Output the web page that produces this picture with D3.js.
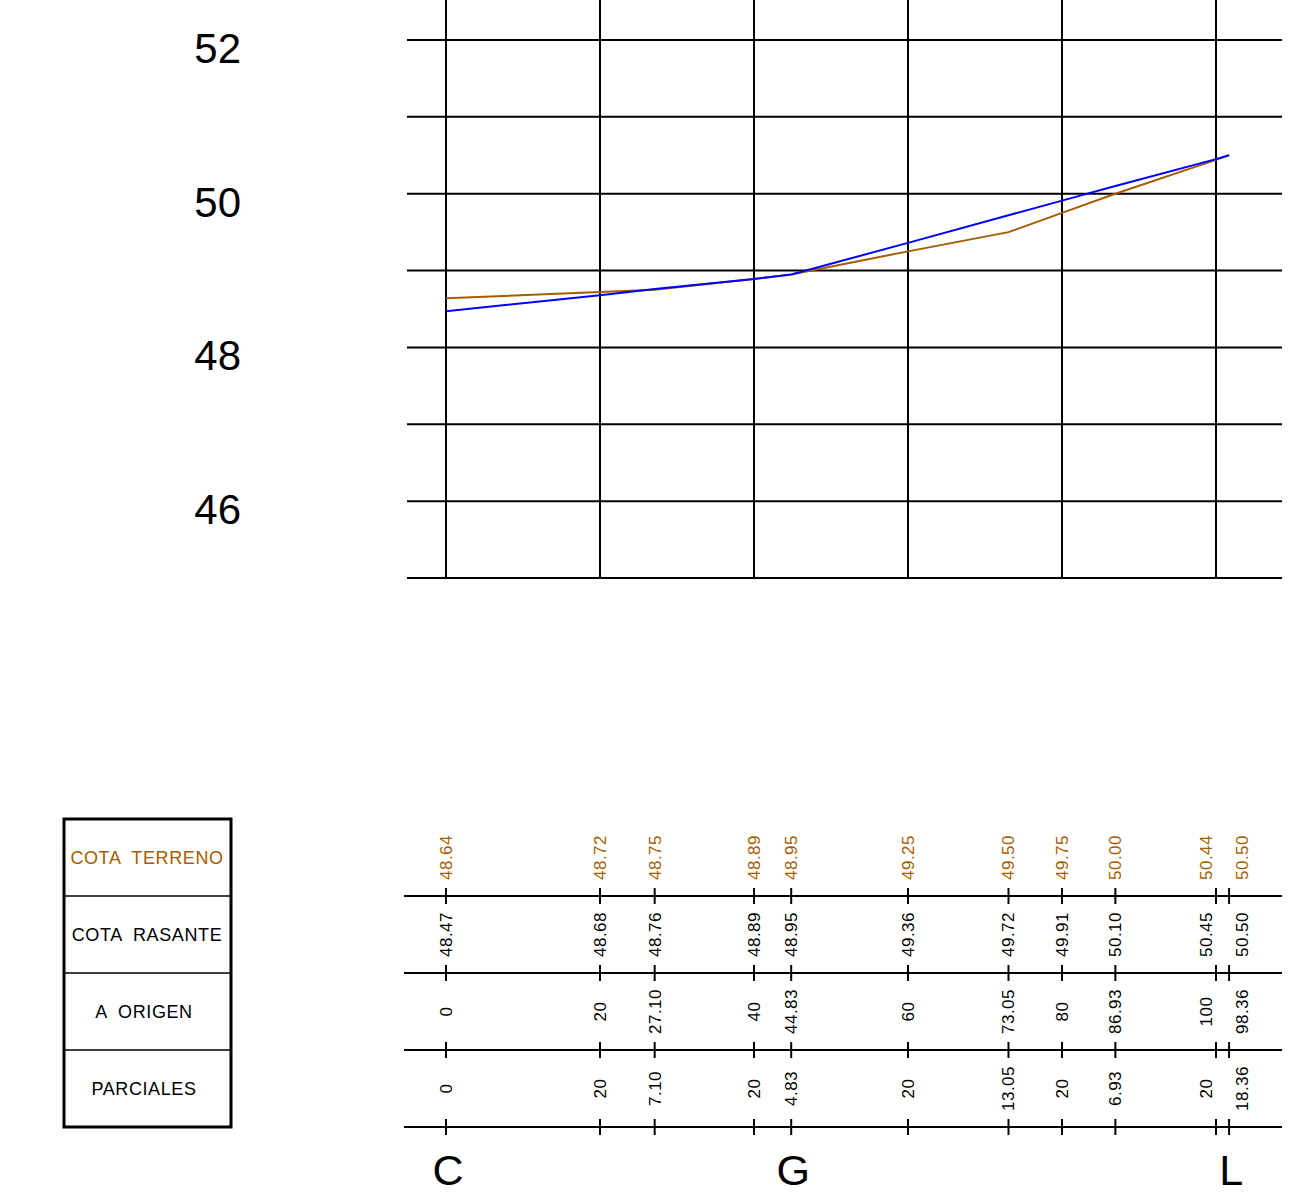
<!DOCTYPE html>
<html>
  <head>
    <meta charset="utf-8">
    <style>
      body { margin: 0; background: #fff; }
      svg { display: block; }
      text { font-family: "Liberation Sans", Arial, sans-serif; white-space: pre; }
    </style>
    <script src="https://d3js.org/d3.v7.min.js"></script>
  </head>
  <body>
    <script type="text/javascript">
      const width = 1292;
      const height = 1196;

      // distances along the alignment (m) where each row value sits
      const stations = [0, 20, 27.10, 40, 44.83, 60, 73.05, 80, 86.93, 100, 101.7];
      const cotaTerreno = [48.64, 48.72, 48.75, 48.89, 48.95, 49.25, 49.50, 49.75, 50.00, 50.44, 50.50];
      const cotaRasante = [48.47, 48.68, 48.76, 48.89, 48.95, 49.36, 49.72, 49.91, 50.10, 50.45, 50.50];
      const aOrigen = ['0', '20', '27.10', '40', '44.83', '60', '73.05', '80', '86.93', '100', '98.36'];
      const parciales = ['0', '20', '7.10', '20', '4.83', '20', '13.05', '20', '6.93', '20', '18.36'];
      const puntos = [{ name: 'C', idx: 0 }, { name: 'G', idx: 4 }, { name: 'L', idx: 10 }];
      const rowNames = ['COTA  TERRENO', 'COTA  RASANTE', 'A  ORIGEN', 'PARCIALES'];

      const yTicks = [45, 46, 47, 48, 49, 50, 51, 52];
      const yLabels = [46, 48, 50, 52];
      const xGrid = [0, 20, 40, 60, 80, 100];

      const brown = '#a65c00';
      const blue = '#0000ff';

      const svg = d3.select('body')
        .append('svg')
        .attr('width', width)
        .attr('height', height);

      const x = d3.scaleLinear().domain([0, 100]).range([446, 1216]);
      const y = d3.scaleLinear().domain([45, 52]).range([578, 40]);

      // grid
      svg.append('g')
        .selectAll('line')
        .data(yTicks)
        .enter()
        .append('line')
        .attr('x1', 407)
        .attr('x2', 1282)
        .attr('y1', (d) => y(d))
        .attr('y2', (d) => y(d))
        .attr('stroke', '#000')
        .attr('stroke-width', 2);

      svg.append('g')
        .selectAll('line')
        .data(xGrid)
        .enter()
        .append('line')
        .attr('x1', (d) => x(d))
        .attr('x2', (d) => x(d))
        .attr('y1', 0)
        .attr('y2', y(45))
        .attr('stroke', '#000')
        .attr('stroke-width', 2);

      svg.append('g')
        .selectAll('text')
        .data(yLabels)
        .enter()
        .append('text')
        .attr('x', 241)
        .attr('y', (d) => y(d) + 23)
        .attr('text-anchor', 'end')
        .attr('font-size', 42)
        .text((d) => d);

      // profile lines
      const line = (vals) => d3.line()
        .x((d, i) => x(stations[i]))
        .y((d) => y(d))(vals);

      svg.append('path')
        .attr('d', line(cotaTerreno))
        .attr('fill', 'none')
        .attr('stroke', brown)
        .attr('stroke-width', 2);

      svg.append('path')
        .attr('d', line(cotaRasante))
        .attr('fill', 'none')
        .attr('stroke', blue)
        .attr('stroke-width', 2);

      // guitar (data rows)
      const rowTop = 819;
      const rowH = 77;
      const rowLines = [1, 2, 3, 4].map((i) => rowTop + i * rowH);

      svg.append('g')
        .selectAll('line')
        .data(rowLines)
        .enter()
        .append('line')
        .attr('x1', 404)
        .attr('x2', 1282)
        .attr('y1', (d) => d)
        .attr('y2', (d) => d)
        .attr('stroke', '#000')
        .attr('stroke-width', 2);

      rowLines.forEach((ly) => {
        svg.append('g')
          .selectAll('line')
          .data(stations)
          .enter()
          .append('line')
          .attr('x1', (d) => x(d))
          .attr('x2', (d) => x(d))
          .attr('y1', ly - 8)
          .attr('y2', ly + 8)
          .attr('stroke', '#000')
          .attr('stroke-width', 2);
      });

      // push apart labels of stations that sit too close together
      const labelX = (i) => {
        const px = x(stations[i]);
        if (i < stations.length - 1 && stations[i + 1] - stations[i] < 3) return px - 10;
        if (i > 0 && stations[i] - stations[i - 1] < 3) return px + 13;
        return px;
      };

      const rows = [
        { vals: cotaTerreno.map((v) => v.toFixed(2)), color: brown },
        { vals: cotaRasante.map((v) => v.toFixed(2)), color: '#000' },
        { vals: aOrigen, color: '#000' },
        { vals: parciales, color: '#000' },
      ];

      rows.forEach((row, r) => {
        const cy = rowTop + r * rowH + rowH / 2;
        svg.append('g')
          .selectAll('text')
          .data(row.vals)
          .enter()
          .append('text')
          .attr('transform', (d, i) => `translate(${labelX(i)},${cy}) rotate(-90)`)
          .attr('text-anchor', 'middle')
          .attr('dy', '0.35em')
          .attr('font-size', 17)
          .attr('letter-spacing', 0.5)
          .attr('fill', row.color)
          .text((d) => d);
      });

      // row header box
      const box = svg.append('g');
      box.append('rect')
        .attr('x', 64)
        .attr('y', rowTop)
        .attr('width', 167)
        .attr('height', rowH * 4)
        .attr('fill', 'none')
        .attr('stroke', '#000')
        .attr('stroke-width', 3);

      box.selectAll('line')
        .data(rowLines.slice(0, 3))
        .enter()
        .append('line')
        .attr('x1', 64)
        .attr('x2', 231)
        .attr('y1', (d) => d)
        .attr('y2', (d) => d)
        .attr('stroke', '#000')
        .attr('stroke-width', 1.5);

      box.selectAll('text')
        .data(rowNames)
        .enter()
        .append('text')
        .attr('x', (d, i) => i < 2 ? 147 : 144)
        .attr('y', (d, i) => rowTop + i * rowH + rowH / 2 + 6)
        .attr('text-anchor', 'middle')
        .attr('font-size', 18)
        .attr('letter-spacing', 0.6)
        .attr('fill', (d, i) => i === 0 ? brown : '#000')
        .text((d) => d);

      // point names
      svg.append('g')
        .selectAll('text')
        .data(puntos)
        .enter()
        .append('text')
        .attr('x', (d) => x(stations[d.idx]) + 2)
        .attr('y', 1185)
        .attr('text-anchor', 'middle')
        .attr('font-size', 43)
        .text((d) => d.name);
    </script>
  </body>
</html>
